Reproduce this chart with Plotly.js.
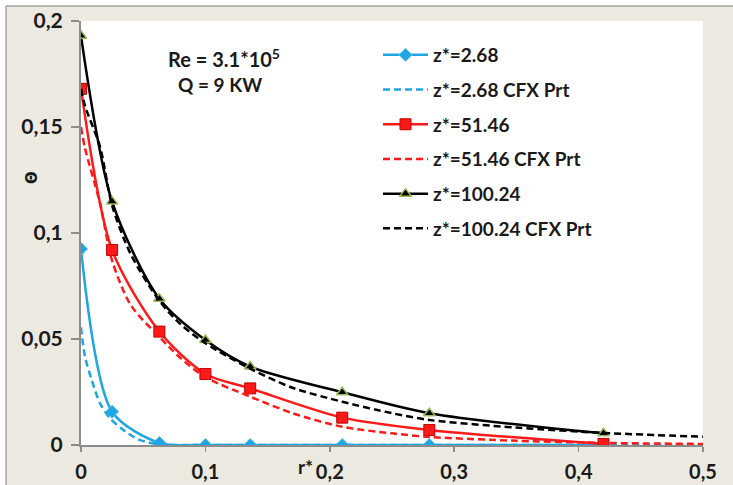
<!DOCTYPE html>
<html>
<head>
<meta charset="utf-8">
<script src="https://cdn.plot.ly/plotly-3.0.1.min.js"></script>
<style>html,body{margin:0;padding:0;background:#fff}#chart{width:733px;height:485px}</style>
</head>
<body>
<div id="chart"></div>
<script>
// Measured (experimental) radial positions and values
const rExp = [0, 0.025, 0.063, 0.1, 0.136, 0.21, 0.28, 0.42];
const thetaZ268 = [0.0925, 0.0157, 0.001, 0.0, 0.0, 0.0, 0.0, 0.0];
const thetaZ5146 = [0.168, 0.092, 0.0535, 0.0335, 0.0267, 0.0129, 0.0071, 0.0005];
const thetaZ10024 = [0.193, 0.1148, 0.069, 0.0495, 0.037, 0.0249, 0.015, 0.0055];

// CFX Prt curves
const rCfxBlue = [0, 0.0032, 0.0086, 0.0153, 0.0233, 0.034, 0.047, 0.063, 0.08, 0.1, 0.2, 0.3, 0.4, 0.5];
const thetaCfxZ268 = [0.0555, 0.0417, 0.0307, 0.0197, 0.0126, 0.0071, 0.0024, 0.0003, 0.0, 0.0, 0.0, 0.0, 0.0, 0.0];
const rCfx = [0, 0.0032, 0.0153, 0.025, 0.04, 0.063, 0.08, 0.1, 0.136, 0.17, 0.21, 0.25, 0.28, 0.35, 0.42, 0.5];
const thetaCfxZ5146 = [0.150, 0.140, 0.114, 0.087, 0.066, 0.051, 0.041, 0.032, 0.0228, 0.015, 0.0086, 0.0055, 0.0038, 0.002, 0.001, 0.0005];
const thetaCfxZ10024 = [0.168, 0.160, 0.1407, 0.113, 0.090, 0.068, 0.057, 0.048, 0.036, 0.027, 0.0204, 0.015, 0.0118, 0.0082, 0.0057, 0.0039];

const seriesNames = ['z*=2.68', 'z*=2.68 CFX Prt', 'z*=51.46', 'z*=51.46 CFX Prt', 'z*=100.24', 'z*=100.24 CFX Prt'];
const xTickVals = [0, 0.1, 0.2, 0.3, 0.4, 0.5];
const xTickText = ['0', '0,1', '0,2', '0,3', '0,4', '0,5'];
const yTickVals = [0, 0.05, 0.1, 0.15, 0.2];
const yTickText = ['0', '0,05', '0,1', '0,15', '0,2'];

const BLUE = '#1fa6e2', RED = '#ff1a1a', BLACK = '#000000';
const FONT = 'Lato, "Open Sans", sans-serif';

const traces = [
  {x: rExp, y: thetaZ268, name: seriesNames[0], legendgroup: 'g1', mode: 'lines+markers',
   line: {color: BLUE, width: 2.5, shape: 'spline', smoothing: 0.8},
   marker: {symbol: 'diamond', size: 10, color: BLUE, line: {color: '#5bc0ee', width: 1}}},
  {x: rCfxBlue, y: thetaCfxZ268, name: seriesNames[1], legendgroup: 'g2', mode: 'lines',
   line: {color: BLUE, width: 2.5, dash: '7px,4px', shape: 'spline', smoothing: 0.8}},
  {x: rExp, y: thetaZ5146, name: seriesNames[2], legendgroup: 'g3', mode: 'lines+markers',
   line: {color: RED, width: 2.5, shape: 'spline', smoothing: 0.8},
   marker: {symbol: 'square', size: 11, color: RED, line: {color: '#c00000', width: 1}}},
  {x: rCfx, y: thetaCfxZ5146, name: seriesNames[3], legendgroup: 'g4', mode: 'lines',
   line: {color: RED, width: 2.5, dash: '7px,4px', shape: 'spline', smoothing: 0.8}},
  {x: rExp, y: thetaZ10024, name: seriesNames[4], legendgroup: 'g5', mode: 'lines+markers',
   line: {color: BLACK, width: 2.5, shape: 'spline', smoothing: 0.8},
   marker: {symbol: 'triangle-up', size: 10, color: BLACK, line: {color: '#9bbb59', width: 1.5}}},
  {x: rCfx, y: thetaCfxZ10024, name: seriesNames[5], legendgroup: 'g6', mode: 'lines',
   line: {color: BLACK, width: 2.5, dash: '7px,4px', shape: 'spline', smoothing: 0.8}}
];

// helpers converting pixel positions to paper fractions (plot area 81..703 x 21..445)
const px = v => (v - 81) / 622;
const py = v => (445 - v) / 424;

const layout = {
  width: 733, height: 485,
  margin: {l: 81, r: 30, t: 21, b: 40, pad: 0},
  paper_bgcolor: '#ece9e0',
  plot_bgcolor: '#ffffff',
  font: {family: FONT, color: '#1a1a1a', size: 18, weight: 'bold'},
  showlegend: true,
  legend: {x: px(378), y: py(36), xanchor: 'left', yanchor: 'top', bgcolor: 'rgba(0,0,0,0)',
    font: {family: FONT, size: 19, color: '#1a1a1a', weight: 'bold'},
    tracegroupgap: 7, traceorder: 'grouped', itemwidth: 45},
  xaxis: {range: [0, 0.5], tickvals: xTickVals, ticktext: xTickText, showgrid: false, zeroline: false,
    showline: true, linecolor: '#8c8c8c', linewidth: 2, ticks: 'outside', ticklen: 5, tickcolor: '#8c8c8c', tickwidth: 1.5,
    tickfont: {family: FONT, size: 20, color: '#1a1a1a', weight: 'bold'}, ticklabelstandoff: 3},
  yaxis: {range: [0, 0.2], tickvals: yTickVals, ticktext: yTickText, showgrid: false, zeroline: false,
    showline: true, linecolor: '#8c8c8c', linewidth: 2, ticks: 'outside', ticklen: 8, tickcolor: '#8c8c8c', tickwidth: 1.5,
    tickfont: {family: FONT, size: 21, color: '#1a1a1a', weight: 'bold'}, ticklabelstandoff: 4},
  shapes: [
    {type: 'rect', xref: 'paper', yref: 'paper', x0: px(-5), x1: px(6), y0: py(490), y1: py(-5), fillcolor: '#ffffff', line: {width: 0}, layer: 'below'},
    {type: 'rect', xref: 'paper', yref: 'paper', x0: px(-5), x1: px(740), y0: py(6), y1: py(-5), fillcolor: '#ffffff', line: {width: 0}, layer: 'below'},
    {type: 'line', xref: 'paper', yref: 'paper', x0: px(6), x1: px(6), y0: py(6), y1: py(490), line: {color: '#a6a6a6', width: 1.5}},
    {type: 'line', xref: 'paper', yref: 'paper', x0: px(6), x1: px(740), y0: py(6), y1: py(6), line: {color: '#a6a6a6', width: 1.5}}
  ],
  annotations: [
    {text: 'Re = 3.1*10<sup>5</sup>', xref: 'paper', yref: 'paper', x: px(166), y: py(58), xanchor: 'left', yanchor: 'middle', showarrow: false,
     font: {family: FONT, size: 20, color: '#1a1a1a', weight: 'bold'}},
    {text: 'Q = 9 KW', xref: 'paper', yref: 'paper', x: px(176), y: py(84), xanchor: 'left', yanchor: 'middle', showarrow: false,
     font: {family: FONT, size: 19, color: '#1a1a1a', weight: 'bold'}},
    {text: 'r*', xref: 'paper', yref: 'paper', x: px(305), y: py(466), xanchor: 'center', yanchor: 'middle', showarrow: false,
     font: {family: FONT, size: 19, color: '#1a1a1a', weight: 'bold'}},
    {text: 'Θ', xref: 'paper', yref: 'paper', x: px(32), y: py(178), xanchor: 'center', yanchor: 'middle', showarrow: false, textangle: -90,
     font: {family: '"DejaVu Sans", sans-serif', size: 15, color: '#1a1a1a'}}
  ]
};

Plotly.newPlot('chart', traces, layout, {displayModeBar: false, staticPlot: true});
</script>
</body>
</html>
